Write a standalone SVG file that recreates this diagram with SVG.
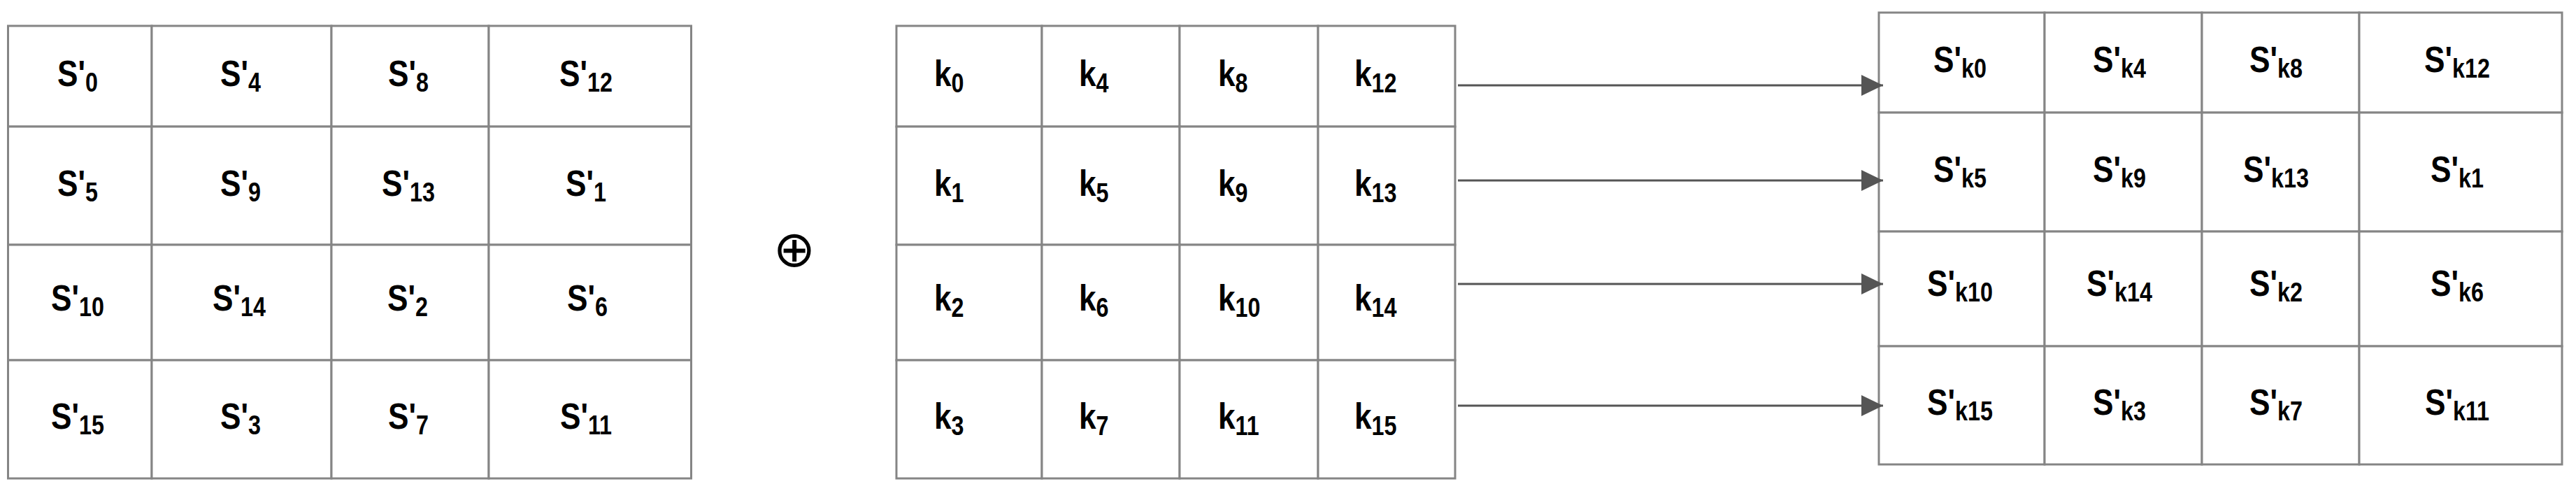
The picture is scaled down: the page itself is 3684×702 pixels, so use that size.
<svg xmlns="http://www.w3.org/2000/svg" width="3684" height="702" viewBox="0 0 3684 702">
<style>
.cell{fill:#fff;stroke:#858585;stroke-width:3}
.t{font-family:"Liberation Sans",Arial,sans-serif;font-weight:bold;font-size:52px;fill:#000}
.m{text-anchor:middle}
.sub{font-size:38px}
.conn{stroke:#555;stroke-width:3;fill:none}
.xor{font-family:"DejaVu Sans",sans-serif;font-size:72px;text-anchor:middle;fill:#000}
</style>
<defs>
<marker id="ah" markerUnits="userSpaceOnUse" markerWidth="32" markerHeight="32" refX="31" refY="15" orient="auto">
<path d="M0,0 L31,15 L0,30 Z" fill="#555"/>
</marker>
</defs>
<rect width="3684" height="702" fill="#fff"/>

<g id="grid-s">
<rect class="cell" x="11.5" y="37" width="205.5" height="144"/>
<rect class="cell" x="217" y="37" width="257" height="144"/>
<rect class="cell" x="474" y="37" width="225" height="144"/>
<rect class="cell" x="699" y="37" width="289.5" height="144"/>
<rect class="cell" x="11.5" y="181" width="205.5" height="169"/>
<rect class="cell" x="217" y="181" width="257" height="169"/>
<rect class="cell" x="474" y="181" width="225" height="169"/>
<rect class="cell" x="699" y="181" width="289.5" height="169"/>
<rect class="cell" x="11.5" y="350" width="205.5" height="165"/>
<rect class="cell" x="217" y="350" width="257" height="165"/>
<rect class="cell" x="474" y="350" width="225" height="165"/>
<rect class="cell" x="699" y="350" width="289.5" height="165"/>
<rect class="cell" x="11.5" y="515" width="205.5" height="169"/>
<rect class="cell" x="217" y="515" width="257" height="169"/>
<rect class="cell" x="474" y="515" width="225" height="169"/>
<rect class="cell" x="699" y="515" width="289.5" height="169"/>
<text class="t m" transform="translate(111,123) scale(0.85,1)">S'<tspan class="sub" dy="8">0</tspan></text>
<text class="t m" transform="translate(344,123) scale(0.85,1)">S'<tspan class="sub" dy="8">4</tspan></text>
<text class="t m" transform="translate(584,123) scale(0.85,1)">S'<tspan class="sub" dy="8">8</tspan></text>
<text class="t m" transform="translate(838,123) scale(0.85,1)">S'<tspan class="sub" dy="8">12</tspan></text>
<text class="t m" transform="translate(111,280) scale(0.85,1)">S'<tspan class="sub" dy="8">5</tspan></text>
<text class="t m" transform="translate(344,280) scale(0.85,1)">S'<tspan class="sub" dy="8">9</tspan></text>
<text class="t m" transform="translate(584,280) scale(0.85,1)">S'<tspan class="sub" dy="8">13</tspan></text>
<text class="t m" transform="translate(838,280) scale(0.85,1)">S'<tspan class="sub" dy="8">1</tspan></text>
<text class="t m" transform="translate(111,444) scale(0.85,1)">S'<tspan class="sub" dy="8">10</tspan></text>
<text class="t m" transform="translate(342,444) scale(0.85,1)">S'<tspan class="sub" dy="8">14</tspan></text>
<text class="t m" transform="translate(583,444) scale(0.85,1)">S'<tspan class="sub" dy="8">2</tspan></text>
<text class="t m" transform="translate(840,444) scale(0.85,1)">S'<tspan class="sub" dy="8">6</tspan></text>
<text class="t m" transform="translate(111,613) scale(0.85,1)">S'<tspan class="sub" dy="8">15</tspan></text>
<text class="t m" transform="translate(344,613) scale(0.85,1)">S'<tspan class="sub" dy="8">3</tspan></text>
<text class="t m" transform="translate(584,613) scale(0.85,1)">S'<tspan class="sub" dy="8">7</tspan></text>
<text class="t m" transform="translate(838,613) scale(0.85,1)">S'<tspan class="sub" dy="8">11</tspan></text>
</g>

<g id="xor">
<text class="xor" x="1136" y="381">⊕</text>
</g>

<g id="grid-k">
<rect class="cell" x="1282" y="37" width="208" height="144"/>
<rect class="cell" x="1490" y="37" width="197" height="144"/>
<rect class="cell" x="1687" y="37" width="198" height="144"/>
<rect class="cell" x="1885" y="37" width="196" height="144"/>
<rect class="cell" x="1282" y="181" width="208" height="169"/>
<rect class="cell" x="1490" y="181" width="197" height="169"/>
<rect class="cell" x="1687" y="181" width="198" height="169"/>
<rect class="cell" x="1885" y="181" width="196" height="169"/>
<rect class="cell" x="1282" y="350" width="208" height="165"/>
<rect class="cell" x="1490" y="350" width="197" height="165"/>
<rect class="cell" x="1687" y="350" width="198" height="165"/>
<rect class="cell" x="1885" y="350" width="196" height="165"/>
<rect class="cell" x="1282" y="515" width="208" height="169"/>
<rect class="cell" x="1490" y="515" width="197" height="169"/>
<rect class="cell" x="1687" y="515" width="198" height="169"/>
<rect class="cell" x="1885" y="515" width="196" height="169"/>
<text class="t" transform="translate(1336,123) scale(0.85,1)">k<tspan class="sub" dy="9">0</tspan></text>
<text class="t" transform="translate(1543,123) scale(0.85,1)">k<tspan class="sub" dy="9">4</tspan></text>
<text class="t" transform="translate(1742,123) scale(0.85,1)">k<tspan class="sub" dy="9">8</tspan></text>
<text class="t" transform="translate(1937,123) scale(0.85,1)">k<tspan class="sub" dy="9">12</tspan></text>
<text class="t" transform="translate(1336,280) scale(0.85,1)">k<tspan class="sub" dy="9">1</tspan></text>
<text class="t" transform="translate(1543,280) scale(0.85,1)">k<tspan class="sub" dy="9">5</tspan></text>
<text class="t" transform="translate(1742,280) scale(0.85,1)">k<tspan class="sub" dy="9">9</tspan></text>
<text class="t" transform="translate(1937,280) scale(0.85,1)">k<tspan class="sub" dy="9">13</tspan></text>
<text class="t" transform="translate(1336,444) scale(0.85,1)">k<tspan class="sub" dy="9">2</tspan></text>
<text class="t" transform="translate(1543,444) scale(0.85,1)">k<tspan class="sub" dy="9">6</tspan></text>
<text class="t" transform="translate(1742,444) scale(0.85,1)">k<tspan class="sub" dy="9">10</tspan></text>
<text class="t" transform="translate(1937,444) scale(0.85,1)">k<tspan class="sub" dy="9">14</tspan></text>
<text class="t" transform="translate(1336,613) scale(0.85,1)">k<tspan class="sub" dy="9">3</tspan></text>
<text class="t" transform="translate(1543,613) scale(0.85,1)">k<tspan class="sub" dy="9">7</tspan></text>
<text class="t" transform="translate(1742,613) scale(0.85,1)">k<tspan class="sub" dy="9">11</tspan></text>
<text class="t" transform="translate(1937,613) scale(0.85,1)">k<tspan class="sub" dy="9">15</tspan></text>
</g>

<g id="grid-sk">
<rect class="cell" x="2687" y="18" width="237" height="143"/>
<rect class="cell" x="2924" y="18" width="225" height="143"/>
<rect class="cell" x="3149" y="18" width="225" height="143"/>
<rect class="cell" x="3374" y="18" width="290" height="143"/>
<rect class="cell" x="2687" y="161" width="237" height="170"/>
<rect class="cell" x="2924" y="161" width="225" height="170"/>
<rect class="cell" x="3149" y="161" width="225" height="170"/>
<rect class="cell" x="3374" y="161" width="290" height="170"/>
<rect class="cell" x="2687" y="331" width="237" height="164"/>
<rect class="cell" x="2924" y="331" width="225" height="164"/>
<rect class="cell" x="3149" y="331" width="225" height="164"/>
<rect class="cell" x="3374" y="331" width="290" height="164"/>
<rect class="cell" x="2687" y="495" width="237" height="169"/>
<rect class="cell" x="2924" y="495" width="225" height="169"/>
<rect class="cell" x="3149" y="495" width="225" height="169"/>
<rect class="cell" x="3374" y="495" width="290" height="169"/>
<text class="t m" transform="translate(2803,103) scale(0.85,1)">S'<tspan class="sub" dy="8">k0</tspan></text>
<text class="t m" transform="translate(3031,103) scale(0.85,1)">S'<tspan class="sub" dy="8">k4</tspan></text>
<text class="t m" transform="translate(3255,103) scale(0.85,1)">S'<tspan class="sub" dy="8">k8</tspan></text>
<text class="t m" transform="translate(3514,103) scale(0.85,1)">S'<tspan class="sub" dy="8">k12</tspan></text>
<text class="t m" transform="translate(2803,260) scale(0.85,1)">S'<tspan class="sub" dy="8">k5</tspan></text>
<text class="t m" transform="translate(3031,260) scale(0.85,1)">S'<tspan class="sub" dy="8">k9</tspan></text>
<text class="t m" transform="translate(3255,260) scale(0.85,1)">S'<tspan class="sub" dy="8">k13</tspan></text>
<text class="t m" transform="translate(3514,260) scale(0.85,1)">S'<tspan class="sub" dy="8">k1</tspan></text>
<text class="t m" transform="translate(2803,423) scale(0.85,1)">S'<tspan class="sub" dy="8">k10</tspan></text>
<text class="t m" transform="translate(3031,423) scale(0.85,1)">S'<tspan class="sub" dy="8">k14</tspan></text>
<text class="t m" transform="translate(3255,423) scale(0.85,1)">S'<tspan class="sub" dy="8">k2</tspan></text>
<text class="t m" transform="translate(3514,423) scale(0.85,1)">S'<tspan class="sub" dy="8">k6</tspan></text>
<text class="t m" transform="translate(2803,593) scale(0.85,1)">S'<tspan class="sub" dy="8">k15</tspan></text>
<text class="t m" transform="translate(3031,593) scale(0.85,1)">S'<tspan class="sub" dy="8">k3</tspan></text>
<text class="t m" transform="translate(3255,593) scale(0.85,1)">S'<tspan class="sub" dy="8">k7</tspan></text>
<text class="t m" transform="translate(3514,593) scale(0.85,1)">S'<tspan class="sub" dy="8">k11</tspan></text>
</g>

<g id="connectors">
<line class="conn" x1="2085" y1="122" x2="2693" y2="122" marker-end="url(#ah)"/>
<line class="conn" x1="2085" y1="258" x2="2693" y2="258" marker-end="url(#ah)"/>
<line class="conn" x1="2085" y1="406" x2="2693" y2="406" marker-end="url(#ah)"/>
<line class="conn" x1="2085" y1="580" x2="2693" y2="580" marker-end="url(#ah)"/>
</g>
</svg>
